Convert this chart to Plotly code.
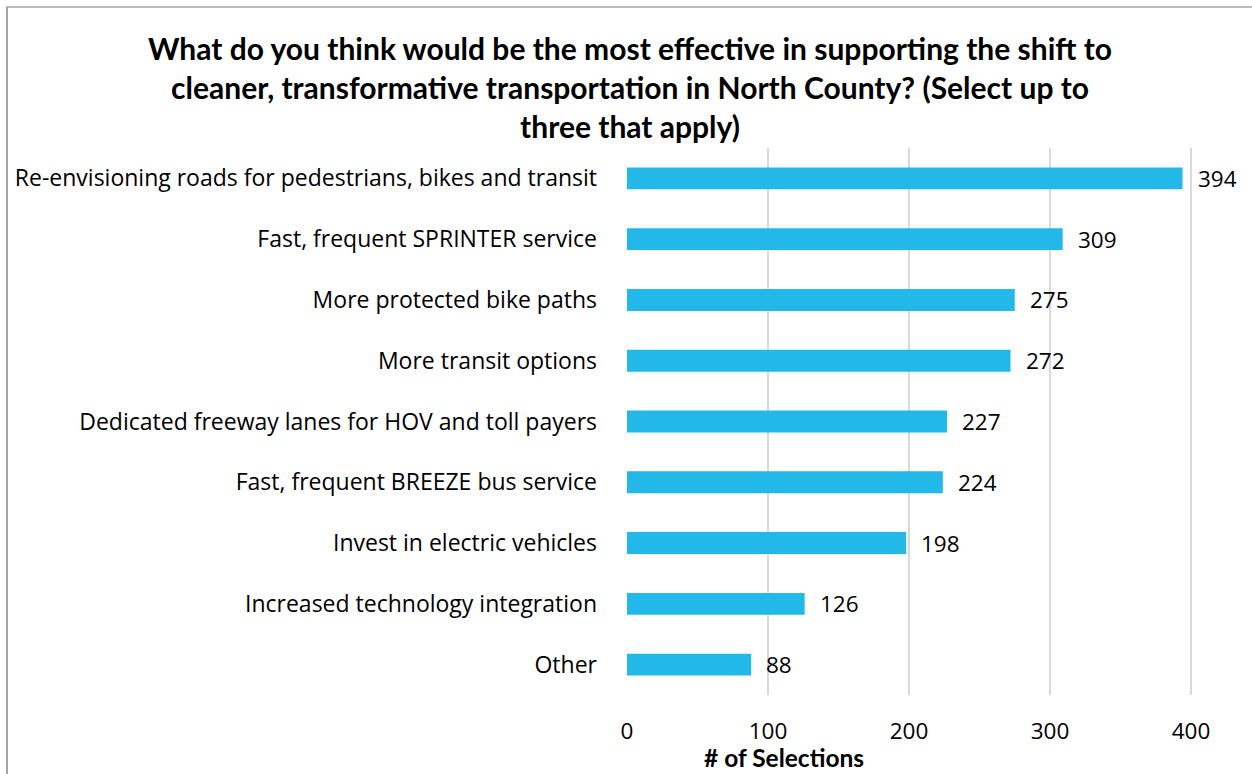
import plotly.graph_objects as go

# Survey responses: number of selections per option (top option first)
categories = [
    "Re-envisioning roads for pedestrians, bikes and transit",
    "Fast, frequent SPRINTER service",
    "More protected bike paths",
    "More transit options",
    "Dedicated freeway lanes for HOV and toll payers",
    "Fast, frequent BREEZE bus service",
    "Invest in electric vehicles",
    "Increased technology integration",
    "Other",
]
selections = [394, 309, 275, 272, 227, 224, 198, 126, 88]
x_ticks = [0, 100, 200, 300, 400]

title_text = ("What do you think would be the most effective in supporting the shift to<br>"
              "cleaner, transformative transportation in North County? (Select up to<br>"
              "three that apply)")
axis_title = "# of Selections"

TITLE_FONT = "Lato"
TEXT_FONT = "Open Sans"
BAR_COLOR = "#22b9e8"
GRID_COLOR = "#d9d9d9"

W, H = 1252, 774
ML, MR, MT, MB = 627, 0, 148, 79

# helpers: figure pixel -> paper coordinates (paper spans the plot area)
pw = W - ML - MR
ph = H - MT - MB
def px_x(p):
    return (p - ML) / pw
def px_y(p):
    return (H - MB - p) / ph

fig = go.Figure()
fig.add_trace(go.Bar(
    x=selections,
    y=categories,
    orientation="h",
    marker=dict(color=BAR_COLOR, line=dict(width=0)),
    hoverinfo="x+y",
))

# value labels just past the end of each bar
for cat, val in zip(categories, selections):
    fig.add_annotation(
        x=val, y=cat, xref="x", yref="y",
        text=str(val), showarrow=False,
        xanchor="left", yanchor="middle", xshift=13,
        font=dict(family=TEXT_FONT, size=22.5, color="#000000"),
    )

# chart title (three centred lines)
fig.add_annotation(
    x=px_x(630), y=px_y(87), xref="paper", yref="paper",
    text=f"<b>{title_text}</b>", showarrow=False,
    xanchor="center", yanchor="middle", align="center",
    font=dict(family=TITLE_FONT, size=30, color="#000000"),
)

# x-axis title
fig.add_annotation(
    x=px_x(784), y=px_y(758), xref="paper", yref="paper",
    text=f"<b>{axis_title}</b>", showarrow=False,
    xanchor="center", yanchor="middle",
    font=dict(family=TITLE_FONT, size=24.5, color="#000000"),
)

# chart frame (left and top edges)
fig.add_shape(type="line", xref="paper", yref="paper",
              x0=px_x(7), x1=px_x(7), y0=px_y(7), y1=px_y(H + 5),
              line=dict(color="#a6a6a6", width=2))
fig.add_shape(type="line", xref="paper", yref="paper",
              x0=px_x(6), x1=px_x(W + 5), y0=px_y(7), y1=px_y(7),
              line=dict(color="#a6a6a6", width=1.5))

fig.update_layout(
    width=W, height=H,
    margin=dict(l=ML, r=MR, t=MT, b=MB, autoexpand=False),
    paper_bgcolor="white", plot_bgcolor="white",
    showlegend=False,
    bargap=0.64,
    xaxis=dict(
        range=[0, (W - ML - MR) / 1.41],
        tickvals=x_ticks,
        showgrid=True, gridcolor=GRID_COLOR, gridwidth=1.5,
        zeroline=False, showline=False, ticks="",
        ticklabelstandoff=20,
        tickfont=dict(family=TEXT_FONT, size=22.5, color="#000000"),
    ),
    yaxis=dict(
        categoryorder="array", categoryarray=categories[::-1],
        showgrid=False, zeroline=False, showline=False, ticks="",
        ticklabelstandoff=29,
        tickfont=dict(family=TEXT_FONT, size=23, color="#000000"),
    ),
)

fig.write_html("out.html")
